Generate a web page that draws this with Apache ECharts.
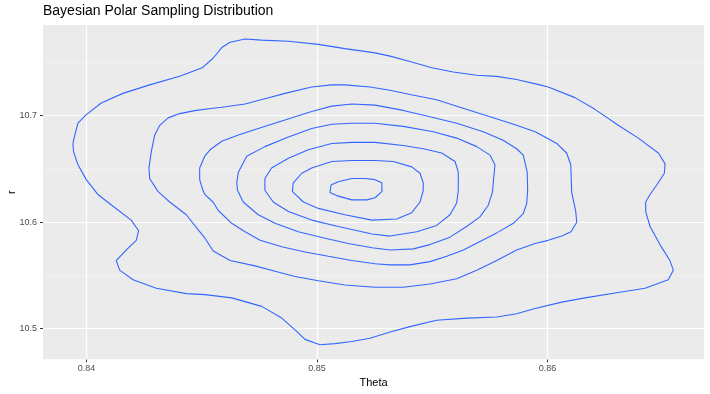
<!DOCTYPE html>
<html>
<head>
<meta charset="utf-8">
<script src="https://cdn.jsdelivr.net/npm/echarts@6/dist/echarts.min.js"></script>
<style>html,body{margin:0;padding:0;background:#fff}#c{width:710px;height:394px}</style>
</head>
<body>
<div id="c"></div>
<script>
// Axis ticks / labels
const xTicks = [0.84, 0.85, 0.86];
const xMinor = [0.845, 0.855, 0.865];
const yTicks = [10.5, 10.6, 10.7];
const yMinor = [10.55, 10.65, 10.75];
const xRange = [0.838113, 0.86679];
const yRange = [10.4713, 10.7852];

// Density contour levels (outer -> inner), [Theta, r]
const contour1 = [[0.83941,10.674],[0.83953,10.685],[0.83963,10.693],[0.83999,10.701],[0.84064,10.712],[0.84158,10.721],[0.84274,10.729],[0.84404,10.737],[0.84502,10.745],[0.84549,10.754],[0.84587,10.764],[0.84623,10.769],[0.84688,10.772],[0.84760,10.771],[0.84876,10.770],[0.85006,10.767],[0.85121,10.763],[0.85252,10.759],[0.85317,10.756],[0.85403,10.751],[0.85498,10.745],[0.85591,10.741],[0.85693,10.738],[0.85780,10.737],[0.85866,10.734],[0.85967,10.729],[0.86003,10.727],[0.86119,10.717],[0.86206,10.706],[0.86307,10.691],[0.86394,10.679],[0.86481,10.665],[0.86510,10.655],[0.86507,10.646],[0.86474,10.635],[0.86445,10.626],[0.86426,10.619],[0.86426,10.610],[0.86445,10.596],[0.86488,10.579],[0.86531,10.564],[0.86546,10.555],[0.86524,10.546],[0.86423,10.538],[0.86307,10.534],[0.86163,10.529],[0.86062,10.525],[0.85946,10.519],[0.85866,10.514],[0.85780,10.511],[0.85649,10.510],[0.85519,10.508],[0.85403,10.502],[0.85317,10.497],[0.85230,10.491],[0.85151,10.488],[0.85078,10.486],[0.85013,10.485],[0.84948,10.490],[0.84905,10.499],[0.84847,10.510],[0.84760,10.521],[0.84630,10.529],[0.84514,10.532],[0.84433,10.533],[0.84303,10.538],[0.84202,10.546],[0.84144,10.555],[0.84129,10.564],[0.84173,10.574],[0.84216,10.583],[0.84226,10.592],[0.84194,10.602],[0.84115,10.615],[0.84050,10.626],[0.83999,10.640],[0.83963,10.654],[0.83944,10.666]];
const contour2 = [[0.84549,10.707],[0.84476,10.705],[0.84404,10.702],[0.84354,10.698],[0.84318,10.691],[0.84296,10.682],[0.84281,10.666],[0.84271,10.651],[0.84274,10.641],[0.84310,10.629],[0.84361,10.619],[0.84433,10.607],[0.84484,10.593],[0.84514,10.585],[0.84550,10.573],[0.84623,10.564],[0.84731,10.559],[0.84818,10.554],[0.84905,10.549],[0.85006,10.545],[0.85121,10.541],[0.85252,10.539],[0.85374,10.539],[0.85490,10.542],[0.85606,10.547],[0.85693,10.555],[0.85780,10.564],[0.85866,10.574],[0.85946,10.580],[0.86003,10.583],[0.86062,10.587],[0.86102,10.591],[0.86127,10.600],[0.86122,10.611],[0.86105,10.628],[0.86101,10.654],[0.86083,10.665],[0.86040,10.674],[0.85989,10.680],[0.85946,10.685],[0.85866,10.691],[0.85751,10.699],[0.85620,10.708],[0.85519,10.715],[0.85403,10.720],[0.85317,10.724],[0.85230,10.727],[0.85121,10.729],[0.85064,10.729],[0.84977,10.727],[0.84861,10.721],[0.84774,10.716],[0.84688,10.711],[0.84587,10.708]];
const contour3 = [[0.85252,10.710],[0.85151,10.711],[0.85064,10.709],[0.84977,10.704],[0.84861,10.696],[0.84745,10.688],[0.84659,10.682],[0.84587,10.676],[0.84536,10.668],[0.84513,10.662],[0.84491,10.651],[0.84491,10.640],[0.84505,10.630],[0.84514,10.626],[0.84549,10.619],[0.84572,10.611],[0.84630,10.599],[0.84688,10.591],[0.84753,10.583],[0.84847,10.577],[0.84948,10.572],[0.85049,10.568],[0.85151,10.564],[0.85252,10.561],[0.85317,10.560],[0.85403,10.560],[0.85490,10.563],[0.85563,10.568],[0.85635,10.574],[0.85707,10.582],[0.85780,10.590],[0.85852,10.599],[0.85895,10.608],[0.85910,10.618],[0.85914,10.630],[0.85912,10.647],[0.85895,10.663],[0.85866,10.669],[0.85808,10.677],[0.85721,10.685],[0.85606,10.693],[0.85490,10.699],[0.85374,10.705]];
const contour4 = [[0.85252,10.693],[0.85151,10.693],[0.85064,10.692],[0.84977,10.688],[0.84876,10.680],[0.84774,10.671],[0.84695,10.662],[0.84659,10.647],[0.84652,10.637],[0.84655,10.630],[0.84680,10.619],[0.84745,10.607],[0.84818,10.599],[0.84919,10.591],[0.85035,10.585],[0.85136,10.580],[0.85239,10.576],[0.85317,10.574],[0.85418,10.575],[0.85490,10.579],[0.85577,10.586],[0.85649,10.596],[0.85707,10.605],[0.85743,10.616],[0.85761,10.628],[0.85772,10.654],[0.85751,10.663],[0.85693,10.671],[0.85606,10.679],[0.85505,10.685],[0.85374,10.690]];
const contour5 = [[0.85252,10.675],[0.85151,10.675],[0.85064,10.674],[0.84962,10.668],[0.84876,10.660],[0.84803,10.651],[0.84774,10.641],[0.84774,10.630],[0.84810,10.619],[0.84876,10.610],[0.84977,10.602],[0.85092,10.596],[0.85239,10.589],[0.85317,10.587],[0.85433,10.591],[0.85519,10.597],[0.85577,10.607],[0.85606,10.618],[0.85613,10.630],[0.85613,10.647],[0.85599,10.657],[0.85541,10.665],[0.85461,10.669],[0.85374,10.672]];
const contour6 = [[0.85252,10.658],[0.85151,10.658],[0.85064,10.657],[0.84977,10.651],[0.84934,10.646],[0.84897,10.637],[0.84893,10.629],[0.84941,10.619],[0.85006,10.613],[0.85121,10.607],[0.85239,10.602],[0.85346,10.603],[0.85411,10.609],[0.85447,10.619],[0.85461,10.630],[0.85461,10.637],[0.85447,10.646],[0.85411,10.652],[0.85331,10.657]];
const contour7 = [[0.85252,10.640],[0.85208,10.641],[0.85151,10.641],[0.85092,10.638],[0.85061,10.635],[0.85056,10.628],[0.85085,10.625],[0.85151,10.621],[0.85216,10.621],[0.85252,10.623],[0.85282,10.629],[0.85281,10.637]];
const contours = [contour1, contour2, contour3, contour4, contour5, contour6, contour7];

const FONT = '"Liberation Sans", Arial, Helvetica, sans-serif';
const chart = echarts.init(document.getElementById('c'), null, {renderer: 'canvas'});

function close(arr){ return arr.concat([arr[0]]); }

const gridLines = [];
xMinor.forEach(v => gridLines.push({xAxis: v, lineStyle: {width: 0.6, color: '#F7F7F7'}}));
yMinor.forEach(v => gridLines.push({yAxis: v, lineStyle: {width: 0.6, color: '#F7F7F7'}}));
xTicks.forEach(v => gridLines.push({xAxis: v, lineStyle: {width: 1.2, color: '#FFFFFF'}}));
yTicks.forEach(v => gridLines.push({yAxis: v, lineStyle: {width: 1.2, color: '#FFFFFF'}}));

const series = [{
  type: 'line', data: [], silent: true, z: 1,
  markLine: {
    silent: true, symbol: ['none','none'], z: 1,
    label: {show: false}, emphasis: {disabled: true},
    lineStyle: {type: 'solid'},
    data: gridLines
  }
}];
contours.forEach(c => series.push({
  type: 'line', data: close(c), showSymbol: false, symbol: 'none', smooth: false, z: 3,
  silent: true, clip: true,
  lineStyle: {color: '#3366FF', width: 1.1}
}));

chart.setOption({
  animation: false,
  backgroundColor: '#FFFFFF',
  title: {
    text: 'Bayesian Polar Sampling Distribution', left: 43, top: 4, padding: 0,
    textStyle: {fontFamily: FONT, fontSize: 14, fontWeight: 'normal', color: '#000000'}
  },
  grid: {left: 43, right: 6, top: 25, bottom: 34.7, show: true, backgroundColor: '#EBEBEB', borderWidth: 0, containLabel: false, outerBoundsMode: 'none'},
  xAxis: {
    type: 'value', min: xRange[0], max: xRange[1],
    name: 'Theta', nameLocation: 'middle', nameGap: 18, nameMoveOverlap: false,
    nameTextStyle: {fontFamily: FONT, fontSize: 11, color: '#000000'},
    axisLine: {show: false},
    axisTick: {show: true, length: 3, customValues: xTicks, lineStyle: {color: '#333333', width: 1}},
    axisLabel: {customValues: xTicks, margin: 5, fontFamily: FONT, fontSize: 9, color: '#4D4D4D', formatter: v => v.toFixed(2)},
    splitLine: {show: false}
  },
  yAxis: {
    type: 'value', min: yRange[0], max: yRange[1],
    name: 'r', nameLocation: 'middle', nameGap: 26, nameMoveOverlap: false,
    nameTextStyle: {fontFamily: FONT, fontSize: 11, color: '#000000'},
    axisLine: {show: false},
    axisTick: {show: true, length: 3, customValues: yTicks, lineStyle: {color: '#333333', width: 1}},
    axisLabel: {customValues: yTicks, margin: 6, fontFamily: FONT, fontSize: 9, color: '#4D4D4D', formatter: v => v.toFixed(1)},
    splitLine: {show: false}
  },
  series: series
});
</script>
</body>
</html>
